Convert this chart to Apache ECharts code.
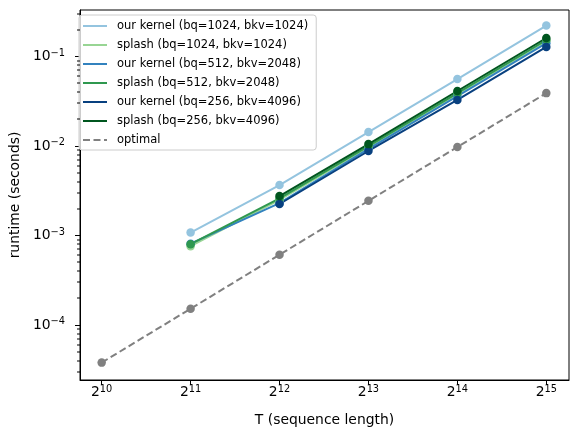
<!DOCTYPE html>
<html>
<head>
<meta charset="utf-8">
<script src="https://cdn.jsdelivr.net/npm/echarts@6/dist/echarts.min.js"></script>
<style>html,body{margin:0;padding:0;background:#fff}#c{width:578px;height:437px}</style>
</head>
<body>
<div id="c"></div>
<script>
// sequence lengths T
const seqLengths = [1024, 2048, 4096, 8192, 16384, 32768];
// runtimes (seconds); null = not measured
const ourKernel1024 = [null, 1.08e-3, 3.66e-3, 0.0143, 0.056, 0.222];
const splash1024    = [null, 7.6e-4, 2.5e-3, 0.0097, 0.038, 0.149];
const ourKernel512  = [null, 8.1e-4, 2.3e-3, 0.0093, 0.036, 0.141];
const splash512     = [null, 8.0e-4, 2.6e-3, 0.0100, 0.039, 0.153];
const ourKernel256  = [null, null, 2.25e-3, 0.0088, 0.0327, 0.128];
const splash256     = [null, null, 2.76e-3, 0.0105, 0.0412, 0.161];
const optimal       = [3.8e-5, 1.52e-4, 6.1e-4, 2.44e-3, 9.75e-3, 0.039];

const xTicks = [1024, 2048, 4096, 8192, 16384, 32768];
const yTicks = [1e-4, 1e-3, 1e-2, 1e-1];
const yMinorTicks = [3e-5, 4e-5, 5e-5, 6e-5, 7e-5, 8e-5, 9e-5,
  2e-4, 3e-4, 4e-4, 5e-4, 6e-4, 7e-4, 8e-4, 9e-4,
  2e-3, 3e-3, 4e-3, 5e-3, 6e-3, 7e-3, 8e-3, 9e-3,
  2e-2, 3e-2, 4e-2, 5e-2, 6e-2, 7e-2, 8e-2, 9e-2,
  2e-1, 3e-1];

const X_MIN = 865, X_MAX = 39106, Y_MIN = 2.43e-5, Y_MAX = 0.331;

const seriesDefs = [
  {name: 'our kernel (bq=1024, bkv=1024)', data: ourKernel1024, color: '#94c4df'},
  {name: 'splash (bq=1024, bkv=1024)', data: splash1024, color: '#98d594'},
  {name: 'our kernel (bq=512, bkv=2048)', data: ourKernel512, color: '#3282be'},
  {name: 'splash (bq=512, bkv=2048)', data: splash512, color: '#2f984f'},
  {name: 'our kernel (bq=256, bkv=4096)', data: ourKernel256, color: '#08407f'},
  {name: 'splash (bq=256, bkv=4096)', data: splash256, color: '#00561f'},
  {name: 'optimal', data: optimal, color: '#808080', dashed: true}
];

const FONT = 'DejaVu Sans';
const chart = echarts.init(document.getElementById('c'), null, {renderer: 'canvas'});

const series = seriesDefs.map(s => ({
  name: s.name,
  type: 'line',
  data: seqLengths.map((t, i) => s.data[i] == null ? null : [t, s.data[i]]).filter(p => p),
  symbol: 'circle',
  symbolSize: 8.5,
  itemStyle: {color: s.color},
  lineStyle: {color: s.color, width: 2, type: s.dashed ? [7, 3.5] : 'solid'},
  emphasis: {disabled: true},
  animation: false
}));

// minor ticks of the log y axis, placed through the axis scale
series.push({
  type: 'custom',
  clip: false,
  silent: true,
  data: yMinorTicks.map(v => [seqLengths[0], v]),
  renderItem: (params, api) => {
    const y = api.coord([api.value(0), api.value(1)])[1];
    const left = params.coordSys.x;
    return {type: 'rect', shape: {x: left - 3, y: Math.round(y) - 0.5, width: 3, height: 1}, style: {fill: '#000'}};
  },
  z: 10
});

const richSup = {
  b: {fontFamily: FONT, fontSize: 13.9, verticalAlign: 'middle', color: '#000'},
  s: {fontFamily: FONT, fontSize: 9.8, verticalAlign: 'middle', padding: [0, 0, 7, 0], color: '#000'}
};

chart.setOption({
  animation: false,
  backgroundColor: '#fff',
  textStyle: {fontFamily: FONT},
  grid: {left: 73, right: 9, top: 10, bottom: 57, show: true, borderColor: '#000', borderWidth: 1, backgroundColor: 'transparent'},
  legend: {
    orient: 'vertical', left: 79, top: 15,
    padding: [5, 8, 4, 3],
    itemWidth: 24, itemHeight: 12, itemGap: 7.0,
    backgroundColor: 'rgba(255,255,255,0.8)', borderColor: '#cccccc', borderWidth: 1, borderRadius: 3,
    itemStyle: {opacity: 0},
    textStyle: {fontFamily: FONT, fontSize: 11.5, color: '#000', padding: [0, 0, 0, 5]},
    data: seriesDefs.map(s => s.name)
  },
  xAxis: {
    type: 'log', logBase: 2, min: X_MIN, max: X_MAX,
    name: 'T (sequence length)', nameLocation: 'middle', nameGap: 33,
    nameTextStyle: {fontFamily: FONT, fontSize: 13.9, color: '#000'},
    axisLine: {show: true, lineStyle: {color: '#000', width: 1}},
    axisTick: {show: true, length: 5, inside: false, lineStyle: {color: '#000'}, customValues: xTicks},
    splitLine: {show: false}, minorTick: {show: false},
    axisLabel: {
      customValues: xTicks, margin: 4, color: '#000',
      formatter: v => '{b|2}{s|' + Math.round(Math.log2(v)) + '}',
      rich: richSup
    }
  },
  yAxis: {
    type: 'log', logBase: 10, min: Y_MIN, max: Y_MAX, position: 'left',
    name: 'runtime (seconds)', nameLocation: 'middle', nameGap: 51, nameRotate: 90,
    nameTextStyle: {fontFamily: FONT, fontSize: 13.9, color: '#000'},
    axisLine: {show: true, lineStyle: {color: '#000', width: 1}},
    axisTick: {show: true, length: 5, lineStyle: {color: '#000'}, customValues: yTicks},
    splitLine: {show: false}, minorTick: {show: false},
    axisLabel: {
      customValues: yTicks, margin: 15, color: '#000',
      formatter: v => '{b|10}{s|\u2212' + Math.abs(Math.round(Math.log10(v))) + '}',
      rich: richSup
    }
  },
  series: series
});
</script>
</body>
</html>
